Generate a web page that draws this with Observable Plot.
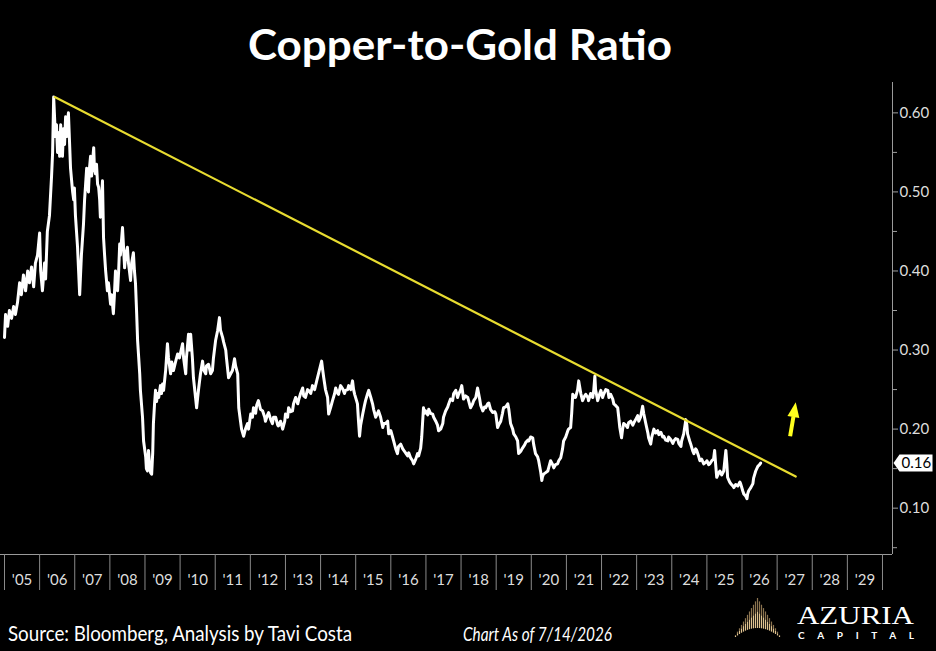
<!DOCTYPE html>
<html>
<head>
<meta charset="utf-8">
<script src="https://cdn.jsdelivr.net/npm/d3@7"></script>
<script src="https://cdn.jsdelivr.net/npm/@observablehq/plot@0.6"></script>
<style>
  html, body { margin: 0; padding: 0; background: #000; width: 936px; height: 651px; overflow: hidden; }
  #wrap { position: relative; width: 936px; height: 651px; background: #000; }
  #chart { position: absolute; left: 0; top: 80px; }
  #overlay { position: absolute; left: 0; top: 0; pointer-events: none; }
</style>
</head>
<body>
<div id="wrap">
  <div id="chart"></div>
  <svg id="overlay" width="936" height="651" viewBox="0 0 936 651">
    <text id="title" x="460" y="60" text-anchor="middle" font-family="Lato, sans-serif" font-weight="700" font-size="42" fill="#fff" textLength="424" lengthAdjust="spacingAndGlyphs">Copper-to-Gold Ratio</text>
    <text x="8" y="641" font-family="Lato, sans-serif" font-size="21" fill="#fff" textLength="344" lengthAdjust="spacingAndGlyphs">Source: Bloomberg, Analysis by Tavi Costa</text>
    <text x="463" y="641" font-family="Lato, sans-serif" font-style="italic" font-size="19" fill="#fff" textLength="149" lengthAdjust="spacingAndGlyphs">Chart As of 7/14/2026</text>
    <g id="logo"></g>
    <text x="797" y="624" font-family="'Liberation Serif', serif" font-size="26" fill="#fff" textLength="117" lengthAdjust="spacingAndGlyphs">AZURIA</text>
    <text x="798" y="639" font-family="Lato, sans-serif" font-weight="700" font-size="10" fill="#fff" textLength="116" lengthAdjust="spacing">CAPITAL</text>
  </svg>
</div>
<script>
// ---- Copper-to-Gold ratio (decimal year, ratio) ----
const years = [
2005.00,2005.03,2005.09,2005.14,2005.20,2005.26,2005.31,2005.37,2005.43,2005.48,2005.54,2005.60,2005.66,2005.71,2005.77,2005.83,2005.88,2005.94,
2006.00,2006.03,2006.08,2006.14,2006.17,2006.22,2006.28,2006.34,2006.37,2006.40,2006.45,2006.48,2006.51,2006.54,2006.57,2006.60,2006.62,2006.65,2006.68,2006.71,2006.74,2006.77,2006.79,2006.82,2006.85,2006.88,2006.92,2006.94,2006.97,2006.99,
2007.02,2007.08,2007.11,2007.14,2007.16,2007.19,2007.25,2007.28,2007.31,2007.34,2007.36,2007.39,2007.42,2007.45,2007.48,2007.51,2007.54,2007.56,2007.59,2007.62,2007.65,2007.68,2007.71,2007.73,2007.76,2007.79,2007.82,2007.85,2007.88,2007.93,2007.96,
2008.02,2008.05,2008.10,2008.13,2008.16,2008.19,2008.22,2008.25,2008.28,2008.30,2008.36,2008.39,2008.42,2008.45,2008.50,2008.53,2008.59,2008.62,2008.67,2008.70,2008.73,2008.76,2008.79,2008.85,2008.87,2008.93,2008.96,
2009.02,2009.04,2009.07,2009.10,2009.13,2009.16,2009.19,2009.22,2009.24,2009.27,2009.30,2009.33,2009.36,2009.39,2009.44,2009.47,2009.50,2009.53,2009.59,2009.64,2009.67,2009.73,2009.76,2009.81,2009.87,2009.93,2009.98,
2010.07,2010.10,2010.16,2010.18,2010.24,2010.27,2010.30,2010.35,2010.38,2010.44,2010.47,2010.50,2010.53,2010.58,2010.64,2010.67,2010.73,2010.75,2010.81,2010.87,2010.92,2010.95,
2011.01,2011.07,2011.12,2011.15,2011.21,2011.24,2011.30,2011.32,2011.38,2011.44,2011.49,2011.55,2011.58,2011.64,2011.67,2011.72,2011.75,2011.81,2011.86,2011.92,2011.95,
2012.01,2012.06,2012.09,2012.15,2012.18,2012.23,2012.29,2012.35,2012.41,2012.43,2012.49,2012.52,2012.58,2012.63,2012.66,2012.72,2012.78,2012.80,2012.86,2012.92,2012.98,
2013.00,2013.06,2013.09,2013.15,2013.20,2013.23,2013.29,2013.35,2013.37,2013.43,2013.49,2013.52,2013.57,2013.63,2013.66,2013.72,2013.77,2013.83,2013.89,2013.94,
2014.03,2014.06,2014.09,2014.14,2014.20,2014.23,2014.29,2014.34,2014.40,2014.43,2014.49,2014.51,2014.57,2014.63,2014.68,2014.71,2014.77,2014.80,2014.86,2014.91,2014.94,2014.97,
2015.03,2015.05,2015.08,2015.11,2015.14,2015.20,2015.25,2015.28,2015.34,2015.37,2015.43,2015.48,2015.51,2015.57,2015.62,2015.65,2015.71,2015.77,2015.80,2015.85,2015.91,2015.94,
2016.00,2016.05,2016.08,2016.14,2016.19,2016.22,2016.28,2016.34,2016.37,2016.42,2016.48,2016.51,2016.56,2016.62,2016.65,2016.71,2016.76,2016.79,2016.85,2016.88,2016.93,2016.96,2016.99,
2017.05,2017.08,2017.13,2017.19,2017.22,2017.28,2017.33,2017.36,2017.42,2017.48,2017.50,2017.56,2017.62,2017.65,2017.70,2017.76,2017.79,2017.85,2017.90,2017.93,2017.99,
2018.02,2018.05,2018.07,2018.13,2018.19,2018.22,2018.27,2018.33,2018.36,2018.42,2018.47,2018.50,2018.53,2018.56,2018.62,2018.67,2018.70,2018.76,2018.79,2018.84,2018.90,2018.96,2018.99,
2019.04,2019.07,2019.13,2019.18,2019.21,2019.27,2019.33,2019.36,2019.41,2019.47,2019.50,2019.56,2019.61,2019.64,2019.70,2019.75,2019.81,2019.84,2019.90,2019.93,2019.98,
2020.04,2020.07,2020.12,2020.18,2020.21,2020.27,2020.30,2020.32,2020.35,2020.41,2020.47,2020.50,2020.55,2020.61,2020.64,2020.69,2020.75,2020.78,2020.84,2020.89,2020.92,2020.98,
2021.04,2021.06,2021.12,2021.15,2021.18,2021.24,2021.26,2021.32,2021.35,2021.41,2021.46,2021.52,2021.55,2021.61,2021.63,2021.69,2021.75,2021.78,2021.81,2021.83,2021.89,2021.95,2021.98,
2022.03,2022.06,2022.12,2022.18,2022.21,2022.26,2022.32,2022.35,2022.40,2022.46,2022.49,2022.52,2022.57,2022.60,2022.63,2022.69,2022.74,2022.77,2022.83,2022.89,2022.92,2022.97,
2023.03,2023.06,2023.11,2023.17,2023.20,2023.26,2023.32,2023.34,2023.40,2023.43,2023.49,2023.54,2023.60,2023.63,2023.69,2023.74,2023.77,2023.83,2023.89,2023.91,2023.97,
2024.03,2024.06,2024.11,2024.17,2024.20,2024.26,2024.28,2024.34,2024.40,2024.43,2024.45,2024.51,2024.54,2024.60,2024.63,2024.68,2024.71,2024.77,2024.80,2024.85,2024.91,2024.97,
2025.00,2025.05,2025.08,2025.14,2025.19,2025.22,2025.25,2025.28,2025.34,2025.37,2025.42,2025.48,2025.51,2025.54,2025.57,2025.59,2025.65,2025.68,2025.74,2025.77,2025.82,2025.88,2025.94,2025.96,
2026.02,2026.05,2026.11,2026.14,2026.16,2026.19,2026.25,2026.31,2026.33,2026.39,2026.45,2026.50,2026.53
];
const ratio = [
0.316,0.345,0.330,0.350,0.340,0.355,0.345,0.360,0.385,0.370,0.395,0.375,0.400,0.385,0.405,0.380,0.410,0.420,
0.448,0.400,0.375,0.410,0.390,0.450,0.470,0.520,0.550,0.620,0.570,0.585,0.550,0.575,0.545,0.585,0.560,0.545,0.580,0.560,0.595,0.570,0.585,0.600,0.565,0.530,0.510,0.500,0.490,0.505,
0.470,0.430,0.400,0.370,0.390,0.420,0.460,0.490,0.510,0.530,0.510,0.500,0.530,0.545,0.520,0.540,0.556,0.530,0.523,0.535,0.510,0.506,0.490,0.468,0.490,0.514,0.442,0.420,0.400,0.375,0.385,
0.358,0.370,0.346,0.370,0.400,0.385,0.375,0.400,0.434,0.420,0.455,0.430,0.404,0.420,0.430,0.410,0.388,0.410,0.423,0.400,0.384,0.350,0.312,0.270,0.249,0.215,0.185,
0.165,0.150,0.147,0.173,0.155,0.145,0.143,0.170,0.207,0.230,0.249,0.235,0.245,0.240,0.255,0.245,0.257,0.249,0.275,0.308,0.290,0.270,0.285,0.274,0.285,0.295,0.290,
0.308,0.290,0.270,0.290,0.320,0.300,0.320,0.290,0.265,0.240,0.227,0.240,0.252,0.270,0.286,0.275,0.270,0.280,0.282,0.270,0.274,0.290,
0.312,0.325,0.341,0.325,0.316,0.310,0.300,0.290,0.265,0.270,0.274,0.289,0.280,0.270,0.227,0.210,0.200,0.191,0.200,0.207,0.200,
0.219,0.215,0.227,0.220,0.230,0.236,0.225,0.223,0.215,0.210,0.218,0.221,0.212,0.207,0.215,0.215,0.205,0.204,0.210,0.200,0.210,
0.219,0.215,0.227,0.222,0.223,0.232,0.240,0.232,0.236,0.245,0.252,0.242,0.240,0.250,0.249,0.245,0.255,0.250,0.261,0.270,
0.286,0.275,0.265,0.250,0.240,0.219,0.228,0.236,0.245,0.252,0.245,0.244,0.255,0.251,0.245,0.249,0.250,0.255,0.250,0.261,0.250,0.244,
0.235,0.232,0.210,0.191,0.205,0.219,0.230,0.236,0.245,0.249,0.240,0.232,0.225,0.215,0.220,0.223,0.215,0.202,0.207,0.207,0.210,0.194,
0.198,0.190,0.185,0.175,0.169,0.178,0.181,0.175,0.173,0.170,0.166,0.170,0.164,0.160,0.156,0.162,0.169,0.166,0.176,0.190,0.227,0.220,0.223,
0.218,0.225,0.220,0.219,0.215,0.210,0.205,0.198,0.200,0.207,0.215,0.223,0.228,0.232,0.238,0.236,0.245,0.249,0.240,0.244,0.250,
0.255,0.245,0.238,0.242,0.240,0.235,0.227,0.232,0.236,0.240,0.252,0.245,0.238,0.230,0.223,0.228,0.227,0.232,0.233,0.225,0.221,0.222,0.219,
0.202,0.205,0.210,0.220,0.227,0.228,0.232,0.225,0.207,0.200,0.194,0.190,0.185,0.169,0.172,0.176,0.180,0.183,0.186,0.185,0.190,
0.189,0.180,0.169,0.165,0.160,0.145,0.135,0.140,0.143,0.145,0.147,0.152,0.160,0.155,0.151,0.155,0.156,0.160,0.164,0.175,0.185,0.190,
0.198,0.200,0.202,0.220,0.244,0.240,0.240,0.250,0.261,0.245,0.236,0.242,0.244,0.240,0.236,0.245,0.240,0.250,0.267,0.250,0.236,0.245,0.249,
0.240,0.244,0.250,0.249,0.240,0.244,0.238,0.232,0.230,0.227,0.215,0.202,0.189,0.200,0.207,0.205,0.202,0.208,0.210,0.205,0.208,0.212,
0.217,0.210,0.215,0.229,0.220,0.207,0.195,0.189,0.181,0.190,0.200,0.195,0.198,0.193,0.196,0.190,0.191,0.186,0.185,0.190,0.187,
0.182,0.185,0.188,0.187,0.182,0.178,0.185,0.194,0.212,0.205,0.194,0.185,0.181,0.172,0.169,0.175,0.173,0.165,0.160,0.162,0.156,0.158,
0.160,0.155,0.156,0.160,0.162,0.173,0.155,0.139,0.145,0.147,0.142,0.147,0.160,0.173,0.155,0.139,0.133,0.131,0.128,0.126,0.130,0.128,0.133,0.131,
0.122,0.118,0.115,0.112,0.118,0.122,0.126,0.131,0.138,0.147,0.153,0.155,0.157
];

// trend line (peak to projected end) and the yellow arrow
const trendYears = [2006.43, 2027.53];
const trendValues = [0.620, 0.140];
const arrowYears = [2027.37, 2027.465];
const arrowValues = [0.191, 0.216];
const arrowTip = {t: 2027.53, v: 0.234};

// axis ticks and labels
const yTicks = [0.10, 0.20, 0.30, 0.40, 0.50, 0.60];
const yMinorTicks = [0.05, 0.15, 0.25, 0.35, 0.45, 0.55];
const yearStarts = [2005,2006,2007,2008,2009,2010,2011,2012,2013,2014,2015,2016,2017,2018,2019,2020,2021,2022,2023,2024,2025,2026,2027,2028,2029,2030];
const yearLabels = ["'05","'06","'07","'08","'09","'10","'11","'12","'13","'14","'15","'16","'17","'18","'19","'20","'21","'22","'23","'24","'25","'26","'27","'28","'29"];
const lastLabel = "0.16";

const xDomain = [2004.886, 2030.285];
const yDomain = [0.0414, 0.6384];

const series = years.map((t, i) => ({t, v: ratio[i]}));
const trend = trendYears.map((t, i) => ({t, v: trendValues[i]}));
const arrow = [{t1: arrowYears[0], v1: arrowValues[0], t2: arrowYears[1], v2: arrowValues[1]}];
const yearMids = yearLabels.map((_, i) => yearStarts[i] + 0.5);
const last = series[series.length - 1];

const headSymbol = { draw(ctx) { ctx.moveTo(0, 0); ctx.lineTo(6, 15); ctx.lineTo(-6, 15); ctx.closePath(); } };
const tagSymbol = { draw(ctx) { ctx.moveTo(1, 0); ctx.lineTo(7, -8.5); ctx.lineTo(40, -8.5); ctx.lineTo(40, 8.5); ctx.lineTo(7, 8.5); ctx.closePath(); } };

const chart = Plot.plot({
  width: 936,
  height: 520,
  marginTop: 2,
  marginBottom: 46,
  marginLeft: 0,
  marginRight: 44,
  style: {background: "#000", color: "#ddd", fontFamily: "Lato, sans-serif", overflow: "visible"},
  x: {type: "linear", domain: xDomain},
  y: {domain: yDomain},
  marks: [
    Plot.ruleY([yDomain[0]], {stroke: "#9a9a9a", strokeWidth: 1}),
    Plot.ruleX([xDomain[1]], {stroke: "#9a9a9a", strokeWidth: 1}),
    Plot.axisX({ticks: yearStarts, tickSize: 36, tickFormat: () => "", stroke: "#8a8a8a", label: null}),
    Plot.axisX({ticks: yearMids, tickSize: 0, tickPadding: 20, fontSize: 15, fill: "#dddddd",
      tickFormat: d => yearLabels[Math.round(d - 2005.5)], label: null}),
    Plot.axisY({anchor: "right", ticks: yTicks, tickSize: 5, tickPadding: 2, fontSize: 15,
      stroke: "#a0a0a0", fill: "#dddddd", tickFormat: d => d.toFixed(2), label: null}),
    Plot.axisY({anchor: "right", ticks: yMinorTicks, tickSize: 4, stroke: "#a0a0a0", tickFormat: () => "", label: null}),
    Plot.line(series, {x: "t", y: "v", stroke: "#ffffff", strokeWidth: 3, strokeLinejoin: "round"}),
    Plot.line(trend, {x: "t", y: "v", stroke: "#e8dc30", strokeWidth: 2.2}),
    Plot.link(arrow, {x1: "t1", y1: "v1", x2: "t2", y2: "v2", stroke: "#ffff1e", strokeWidth: 4}),
    Plot.dot([arrowTip], {x: "t", y: "v", symbol: headSymbol, fill: "#ffff1e", stroke: "none", rotate: 9}),
    Plot.dot([last], {x: () => xDomain[1], y: "v", symbol: tagSymbol, fill: "#ffffff", stroke: "none"}),
    Plot.text([last], {x: () => xDomain[1], y: "v", text: () => lastLabel, dx: 9, textAnchor: "start", fill: "#000", fontSize: 15})
  ]
});
document.getElementById("chart").appendChild(chart);

// decorative logo: fan of fine gold lines (brighter toward the base)
const logo = d3.select("#logo");
for (let x = 735.5; x <= 779.5; x += 2) {
  const u = (x - 757.5) / 22;
  const top = 598 + Math.abs(u) * 37;
  const bottom = 637 - 9 * (1 - u * u);
  if (bottom <= top) continue;
  const mid = top + (bottom - top) * 0.45;
  logo.append("line").attr("x1", x).attr("x2", x).attr("y1", top).attr("y2", mid)
    .attr("stroke", "#8c7550").attr("stroke-width", 1.2);
  logo.append("line").attr("x1", x).attr("x2", x).attr("y1", mid).attr("y2", bottom)
    .attr("stroke", "#e0c391").attr("stroke-width", 1.2);
}
</script>
</body>
</html>
